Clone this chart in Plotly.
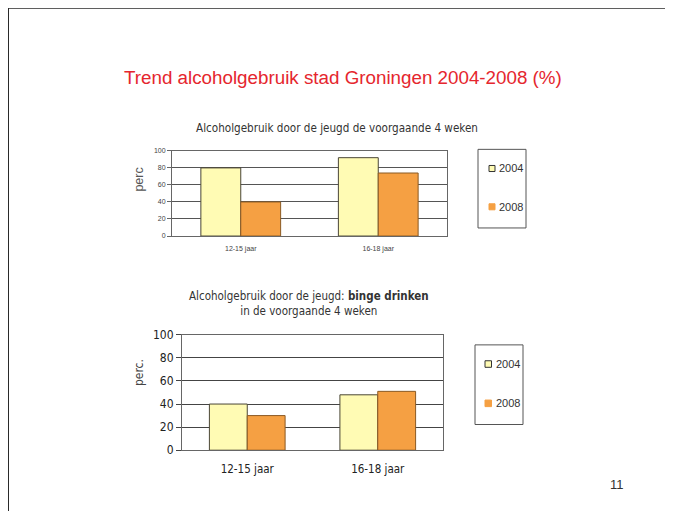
import plotly.graph_objects as go

W, H = 673, 511

# ---- data ----
categories_top = ["12-15 jaar", "16-18 jaar"]
top_2004 = [80, 92]
top_2008 = [40, 74]

categories_bottom = ["12-15 jaar", "16-18 jaar"]
bottom_2004 = [40, 48]
bottom_2008 = [30, 51]

series_names = ["2004", "2008"]
y_ticks = [0, 20, 40, 60, 80, 100]

main_title = "Trend alcoholgebruik stad Groningen 2004-2008 (%)"
sub_title_top = "Alcoholgebruik door de jeugd de voorgaande 4 weken"
sub_title_bottom = "Alcoholgebruik door de jeugd: <b>binge drinken</b><br>in de voorgaande 4 weken"
page_number = "11"

# ---- styling ----
C2004 = "#FFFBB4"
C2008 = "#F5A043"
L2004 = "#4a4636"
L2008 = "#8a5a24"
NARROW = "Liberation Sans Narrow, DejaVu Sans Condensed, Arial Narrow, sans-serif"
ARIAL = "Liberation Sans, Arial, sans-serif"

# empirical correction of page placement
DX, DY, SY = 8.0, 17.7, 0.965


def px_x(x):
    return (x - DX) / W


def px_y(y):
    return 1 - ((y - DY) / SY) / H


fig = go.Figure()

fig.add_trace(go.Bar(x=categories_top, y=top_2004, name=series_names[0],
                     marker=dict(color=C2004, line=dict(color=L2004, width=1)),
                     xaxis="x", yaxis="y", showlegend=False))
fig.add_trace(go.Bar(x=categories_top, y=top_2008, name=series_names[1],
                     marker=dict(color=C2008, line=dict(color=L2008, width=1)),
                     xaxis="x", yaxis="y", showlegend=False))
fig.add_trace(go.Bar(x=categories_bottom, y=bottom_2004, name=series_names[0],
                     marker=dict(color=C2004, line=dict(color=L2004, width=1)),
                     xaxis="x2", yaxis="y2", showlegend=False))
fig.add_trace(go.Bar(x=categories_bottom, y=bottom_2008, name=series_names[1],
                     marker=dict(color=C2008, line=dict(color=L2008, width=1)),
                     xaxis="x2", yaxis="y2", showlegend=False))

shapes = []
annotations = []

# slide frame
shapes.append(dict(type="line", xref="paper", yref="paper",
                   x0=px_x(8), x1=1.0, y0=px_y(10.5), y1=px_y(10.5),
                   line=dict(color="#2a2a2a", width=2)))
shapes.append(dict(type="line", xref="paper", yref="paper",
                   x0=px_x(8), x1=px_x(8), y0=px_y(10), y1=0,
                   line=dict(color="#2a2a2a", width=2)))

# main title
annotations.append(dict(text=main_title, xref="paper", yref="paper",
                        x=px_x(343), y=px_y(80), xanchor="center", yanchor="middle",
                        showarrow=False, font=dict(family=ARIAL, size=18.8, color="#E5262E")))
# subtitles
annotations.append(dict(text=sub_title_top, xref="paper", yref="paper",
                        x=px_x(337), y=px_y(130), xanchor="center", yanchor="middle",
                        showarrow=False, font=dict(family=NARROW, size=11.6, color="#333333")))
annotations.append(dict(text=sub_title_bottom, xref="paper", yref="paper",
                        x=px_x(309), y=px_y(304), xanchor="center", yanchor="middle",
                        showarrow=False, font=dict(family=NARROW, size=11.5, color="#333333")))
# axis titles
annotations.append(dict(text="perc", xref="paper", yref="paper", textangle=-90,
                        x=px_x(139), y=px_y(181), xanchor="center", yanchor="middle",
                        showarrow=False, font=dict(family=ARIAL, size=12.5, color="#555555")))
annotations.append(dict(text="perc.", xref="paper", yref="paper", textangle=-90,
                        x=px_x(139), y=px_y(373), xanchor="center", yanchor="middle",
                        showarrow=False, font=dict(family=NARROW, size=12, color="#444444")))
# page number
annotations.append(dict(text=page_number, xref="paper", yref="paper",
                        x=px_x(617), y=px_y(484), xanchor="center", yanchor="middle",
                        showarrow=False, font=dict(family=ARIAL, size=13, color="#333333")))


def add_legend(x0, x1, y0, y1, ys, sq_x, sq_size, fsize, family):
    shapes.append(dict(type="rect", xref="paper", yref="paper",
                       x0=px_x(x0), x1=px_x(x1), y0=px_y(y1), y1=px_y(y0),
                       line=dict(color="#555555", width=1), fillcolor="rgba(0,0,0,0)"))
    fills = [C2004, C2008]
    lines = ["#333333", C2008]
    for name, yc, f, lc in zip(series_names, ys, fills, lines):
        shapes.append(dict(type="rect", xref="paper", yref="paper",
                           x0=px_x(sq_x), x1=px_x(sq_x + sq_size),
                           y0=px_y(yc + sq_size / 2), y1=px_y(yc - sq_size / 2),
                           line=dict(color=lc, width=1), fillcolor=f))
        annotations.append(dict(text=name, xref="paper", yref="paper",
                                x=px_x(sq_x + sq_size + 2), y=px_y(yc), xanchor="left",
                                yanchor="middle", showarrow=False,
                                font=dict(family=family, size=fsize, color="#333333")))


add_legend(478, 526, 151, 229, [170, 208], 489, 6, 11, ARIAL)
add_legend(475, 523, 345, 424, [364, 403], 485, 6.5, 11, ARIAL)

axis_common = dict(showline=True, linecolor="#666666", linewidth=1, mirror=True)

fig.update_layout(
    width=W, height=H,
    margin=dict(l=0, r=0, t=0, b=0),
    paper_bgcolor="white", plot_bgcolor="white",
    showlegend=False,
    barmode="group", bargap=0.42, bargroupgap=0,
    shapes=shapes, annotations=annotations,
    xaxis=dict(domain=[px_x(172), px_x(447)], anchor="y",
               tickfont=dict(family=ARIAL, size=7, color="#444444"),
               ticks="", ticklabelstandoff=6, showgrid=False, **axis_common),
    yaxis=dict(domain=[px_y(237), px_y(152.5)], anchor="x", range=[0, 100],
               tickvals=y_ticks, ticks="outside", ticklen=4, tickcolor="#666666",
               tickfont=dict(family=ARIAL, size=7, color="#444444"),
               showgrid=True, gridcolor="#555555", gridwidth=1, zeroline=False,
               **axis_common),
    xaxis2=dict(domain=[px_x(182), px_x(443)], anchor="y2",
                tickfont=dict(family=NARROW, size=11.5, color="#222222"),
                ticks="", ticklabelstandoff=8, showgrid=False, **axis_common),
    yaxis2=dict(domain=[px_y(449.5), px_y(335)], anchor="x2", range=[0, 100],
                tickvals=y_ticks, ticks="outside", ticklen=5, tickcolor="#444444",
                tickfont=dict(family=NARROW, size=12, color="#222222"),
                showgrid=True, gridcolor="#444444", gridwidth=1, zeroline=False,
                **axis_common),
)

fig.write_html("out.html")
